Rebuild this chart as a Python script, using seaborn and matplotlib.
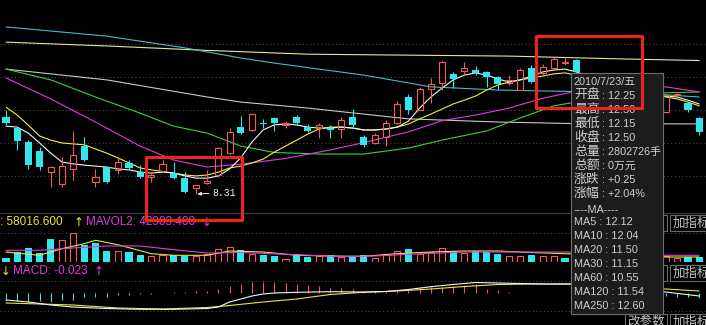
import numpy as np
import pandas as pd
import matplotlib
matplotlib.use("Agg")
import matplotlib.pyplot as plt
from matplotlib.patches import Rectangle
import seaborn as sns

# ----------------------------- data -----------------------------
opens = [10.74, 10.39, 9.95, 9.67, 9.00, 8.62, 9.10, 9.82, 8.69, 9.16,
         9.07, 9.29, 9.00, 8.85, 9.03, 8.97, 8.81, 8.50, 8.66, 8.91,
         9.60, 10.42, 10.33, 10.53, 10.71, 10.49, 10.74, 10.42, 10.39, 10.38,
         10.36, 10.74, 10.11, 9.92, 10.11, 10.55, 11.37, 10.96, 11.62, 11.81,
         12.10, 12.19, 12.22, 12.16, 12.00, 11.81, 11.59, 12.28, 12.13, 12.28,
         12.44, 12.54, 12.05, 11.90, 11.75, 11.85, 11.55, 11.35, 11.45, 10.90,
         11.42, 11.18, 10.71]
highs = [10.96, 10.42, 10.01, 9.79, 9.19, 9.48, 10.30, 10.11, 9.10, 9.19,
         9.45, 9.38, 9.22, 9.00, 9.38, 9.32, 9.00, 8.59, 9.07, 9.79,
         10.39, 10.77, 10.85, 10.68, 10.74, 10.61, 10.80, 10.52, 10.55, 10.49,
         10.74, 10.99, 10.17, 10.23, 10.64, 11.24, 11.46, 11.69, 11.97, 12.51,
         12.16, 12.47, 12.35, 12.19, 12.03, 12.06, 12.28, 12.38, 12.41, 12.63,
         12.63, 12.57, 12.10, 12.00, 11.90, 11.90, 11.65, 11.50, 11.50, 11.45,
         11.50, 11.20, 10.74]
lows = [10.49, 9.70, 9.10, 9.07, 8.53, 8.53, 8.75, 9.35, 8.53, 8.66,
        8.94, 9.10, 8.81, 8.69, 9.00, 8.78, 8.35, 8.31, 8.62, 8.85,
        9.57, 10.20, 10.31, 10.39, 10.30, 10.39, 10.49, 10.27, 10.08, 10.08,
        10.08, 10.42, 9.79, 9.89, 9.82, 10.52, 10.83, 10.95, 11.18, 11.59,
        11.65, 12.10, 12.06, 11.68, 11.62, 11.75, 11.58, 11.81, 12.06, 12.22,
        12.38, 12.10, 11.85, 11.70, 11.60, 11.50, 11.30, 11.20, 11.05, 10.88,
        11.38, 10.90, 10.17]
closes = [10.55, 9.98, 9.22, 9.16, 9.16, 9.19, 9.54, 9.38, 8.85, 8.69,
          9.32, 9.13, 8.85, 8.91, 9.26, 8.81, 8.38, 8.59, 8.72, 9.76,
          10.27, 10.23, 10.83, 10.52, 10.55, 10.55, 10.55, 10.30, 10.49, 10.34,
          10.64, 10.49, 9.86, 10.17, 10.55, 11.15, 10.96, 11.62, 11.78, 12.47,
          11.94, 12.28, 12.13, 12.00, 11.78, 11.91, 12.22, 11.84, 12.32, 12.57,
          12.47, 12.16, 11.90, 11.75, 11.85, 11.55, 11.35, 11.45, 11.10, 11.43,
          11.46, 10.96, 10.27]
low_mark = 8.31

ma5 = [10.45, 10.42, 10.23, 9.92, 9.60, 9.32, 9.26, 9.22, 9.19, 9.16,
       9.10, 9.07, 9.00, 8.97, 9.00, 8.97, 8.88, 8.81, 8.81, 8.88,
       9.10, 9.45, 9.95, 10.33, 10.49, 10.52, 10.49, 10.42, 10.39, 10.39,
       10.42, 10.39, 10.33, 10.33, 10.36, 10.42, 10.61, 11.02, 11.37, 11.65,
       11.91, 12.06, 12.13, 12.06, 11.94, 11.84, 11.91, 12.03, 12.16, 12.22,
       12.25, 12.16, 12.05, 11.95, 11.85, 11.75, 11.65, 11.55, 11.45, 11.40,
       11.37, 11.27, 11.15]
ma10 = [11.05, 10.80, 10.48, 10.14, 10.01, 9.92, 9.89, 9.86, 9.73, 9.60,
        9.45, 9.29, 9.13, 9.07, 9.02, 8.97, 8.91, 8.88, 8.91, 9.00,
        9.13, 9.19, 9.29, 9.41, 9.63, 9.82, 10.01, 10.20, 10.36, 10.42,
        10.42, 10.39, 10.33, 10.33, 10.36, 10.42, 10.52, 10.68, 10.83, 10.99,
        11.15, 11.27, 11.40, 11.59, 11.75, 11.84, 11.91, 11.97, 12.03, 12.10,
        12.13, 12.06, 12.00, 11.95, 11.90, 11.82, 11.72, 11.62, 11.50, 11.37,
        11.31, 11.21, 11.09]
ma20_idx = [0, 4, 8, 12, 15, 18, 21, 25, 29, 32, 36, 39, 42, 45, 48, 51, 59, 62]
ma20 = [11.97, 11.31, 10.58, 9.82, 9.38, 9.16, 9.25, 9.43, 9.70, 9.93,
        10.27, 10.62, 10.80, 11.02, 11.33, 11.55, 11.69, 11.53]
ma30_idx = [0, 4, 8, 12, 15, 18, 21, 24, 28, 32, 36, 39, 43, 46, 49, 51, 59, 62]
ma30 = [12.25, 11.91, 11.37, 10.86, 10.45, 10.23, 9.82, 9.62, 9.57, 9.57,
        9.76, 10.01, 10.30, 10.71, 11.09, 11.21, 11.50, 11.53]
ma60_idx = [0, 9, 18, 21, 27, 32, 36, 44, 51, 62]
ma60 = [12.25, 11.91, 11.37, 11.21, 11.02, 10.83, 10.68, 10.58, 10.53, 10.52]
ma120_idx = [0, 9, 16, 21, 24, 28, 32, 38, 44, 51, 58, 62]
ma120 = [13.58, 13.29, 12.92, 12.60, 12.44, 12.25, 12.06, 11.69, 11.59, 11.54, 11.46, 11.37]
ma250_idx = [0, 9, 18, 27, 36, 45, 54, 62]
ma250 = [13.10, 12.98, 12.84, 12.72, 12.69, 12.66, 12.58, 12.52]

volumes = [32000, 80000, 112000, 74400, 181600, 173600, 234400, 133600, 152000, 88000,
           88000, 80000, 53600, 48000, 53600, 53600, 48000, 48000, 61600, 106400,
           120000, 93600, 61600, 53600, 45600, 26400, 61600, 40000, 45600, 58400,
           40000, 40000, 58400, 34400, 66400, 85600, 101600, 61600, 80000, 114400,
           88000, 72000, 88000, 80000, 61600, 48000, 45600, 53600, 48000, 48000,
           34400, 48000, 52000, 60000, 45000, 56000, 64000, 50000, 58000, 48000,
           34400, 40000, 40000]
vol_dir = list("CCCCCRRCCC" "RCCRRCCRRR" "RCRCCRCCRC" "RCCRRRCRRR"
               "CRCCCRRCRR" "CCCCRCCRCR" "RCC")
mavol1_idx = [0, 3, 5, 7, 8, 10, 13, 15, 18, 20, 23, 26, 29, 32, 35, 38, 41, 44, 47, 50, 59, 62]
mavol1 = [80000, 53600, 106400, 146400, 173600, 138400, 66400, 53600, 53600, 88000, 80000,
          53600, 48000, 45600, 66400, 80000, 88000, 88000, 76000, 66400, 40000, 40000]
mavol2_idx = [0, 3, 6, 9, 12, 15, 18, 21, 26, 30, 33, 36, 41, 45, 50, 59, 62]
mavol2 = [93600, 93600, 112000, 128000, 128000, 98400, 72000, 76000, 58400, 42400,
          48000, 61600, 80000, 80000, 80000, 53600, 53600]

macd_hist = [-0.134, -0.154, -0.17, -0.15, -0.17, -0.14, -0.13, -0.07, -0.08, -0.07,
             -0.04, -0.024, -0.01, -0.01, 0.01, 0.03, 0.03, 0.04, 0.05, 0.08,
             0.15, 0.19, 0.234, 0.234, 0.22, 0.20, 0.18, 0.166, 0.146, 0.114,
             0.10, 0.08, 0.054, 0.046, 0.046, 0.054, 0.066, 0.10, 0.134, 0.134,
             0.154, 0.166, 0.18, 0.086, 0.066, 0.02, 0.01, 0.01, 0.01, 0.01,
             0.01, 0.01, -0.01, -0.02, -0.03, -0.04, -0.05, -0.05, -0.06, -0.06,
             -0.07, -0.08, -0.10]
dif_idx = [0, 2, 4, 6, 9, 12, 15, 18, 19, 20, 21, 22, 23, 24, 26, 29, 32, 34, 36, 38,
           40, 42, 45, 48, 51, 59, 62]
dif = [-0.134, -0.174, -0.234, -0.274, -0.304, -0.320, -0.320, -0.304, -0.274, -0.174,
       -0.114, -0.054, -0.014, 0.006, 0.020, 0.032, 0.026, 0.036, 0.076, 0.132,
       0.176, 0.216, 0.200, 0.186, 0.186, 0.026, -0.054]
dea_idx = [0, 6, 10, 14, 18, 20, 23, 26, 29, 32, 35, 38, 41, 44, 47, 51, 59, 62]
dea = [-0.194, -0.234, -0.294, -0.314, -0.284, -0.244, -0.174, -0.114, -0.024, 0.020,
       0.046, 0.086, 0.136, 0.176, 0.186, 0.186, 0.086, 0.046]

vol_label_1 = ": 58016.600"
vol_label_2 = "MAVOL2: 42903.400"
macd_label = "MACD: -0.023"

tip_date = "2010/7/23/五"
tip_labels = ["开盘", "最高", "最低", "收盘", "总量", "总额", "涨跌", "涨幅"]
tip_values = ["12.25", "12.50", "12.15", "12.50", "2802726手", "0万元", "+0.25", "+2.04%"]
tip_ma_names = ["MA5", "MA10", "MA20", "MA30", "MA60", "MA120", "MA250"]
tip_ma_values = ["12.12", "12.04", "11.50", "11.15", "10.55", "11.54", "12.60"]
btn_add = "加指标"
btn_edit = "改参数"

# ----------------------------- style -----------------------------
sns.set_theme(style="dark")
plt.rcParams["font.family"] = ["Liberation Sans", "Noto Sans CJK SC", "DejaVu Sans"]
plt.rcParams["axes.unicode_minus"] = False

CYAN = "#32e6ee"
RED = "#f05c5c"
YEL = "#e6e63c"
MAG = "#e03ce0"
TXT = "#cfcfcf"
BOXRED = "#e8261e"

W, H = 706, 325
fig = plt.figure(figsize=(W / 100, H / 100), dpi=100, facecolor="black")


def panel(top_px, bot_px, z):
    ax = fig.add_axes([0, 1 - bot_px / H, 1, (bot_px - top_px) / H], zorder=z)
    ax.set_facecolor("none")
    ax.axis("off")
    return ax


bg = panel(0, H, 0)
ax_p = panel(0, 212, 1)
ax_v = panel(213, 262, 1)
ax_m = panel(262, H, 1)
ov = panel(0, H, 5)
for a in (bg, ov):
    a.set_xlim(0, W)
    a.set_ylim(H, 0)

# background grid / separators (layout)
for gy in [43.5, 76.5, 109.5, 142.5, 175.5, 233, 281, 311]:
    bg.plot([0, W], [gy, gy], color="#4c4c4c", lw=0.75, ls=(0, (1, 2.5)))
bg.plot([0, W], [213, 213], color="#3a3a3a", lw=0.9)


def sline(ax, xs, ys, color, lw=0.8, z=2):
    df = pd.DataFrame({"x": np.asarray(xs, float), "y": np.asarray(ys, float)})
    sns.lineplot(data=df, x="x", y="y", ax=ax, color=color, linewidth=lw,
                 estimator=None, sort=False, zorder=z)


n = len(opens)
x = np.arange(n)
o, hi, lo, c = (np.array(v, float) for v in (opens, highs, lows, closes))
up = c >= o

# ----- moving averages (price panel) -----
sline(ax_p, ma250_idx, ma250, "#e6e6a0")
sline(ax_p, ma120_idx, ma120, "#44bccc")
sline(ax_p, ma60_idx, ma60, "#c8c8c8")
sline(ax_p, ma30_idx, ma30, "#3cd23c")
sline(ax_p, ma20_idx, ma20, "#e03ce0")
sline(ax_p, x, ma10, "#f0f03c")
sline(ax_p, x, ma5, "#f4f4f4")

# ----- candles -----
b_lo = np.minimum(o, c)
b_hi = np.maximum(o, c)
b_h = np.maximum(b_hi - b_lo, 0.03)
ax_p.vlines(x[~up], lo[~up], hi[~up], color=CYAN, lw=0.8, zorder=3)
ax_p.vlines(x[up], b_hi[up], hi[up], color=RED, lw=0.8, zorder=3)
ax_p.vlines(x[up], lo[up], b_lo[up], color=RED, lw=0.8, zorder=3)
ax_p.bar(x[~up], b_h[~up], bottom=b_lo[~up], width=0.63, color=CYAN, lw=0, zorder=4)
ax_p.bar(x[up], b_h[up], bottom=b_lo[up], width=0.55, facecolor="none",
         edgecolor=RED, lw=0.8, zorder=4)

ax_p.annotate("8.31", xy=(17, low_mark), xytext=(11.5, 0.8), textcoords="offset points",
              color="#f2f2f2", fontsize=7, family="Liberation Mono", ha="left", va="center",
              arrowprops=dict(arrowstyle="-|>", color="#f2f2f2", lw=0.7,
                              mutation_scale=5, shrinkA=0, shrinkB=1), zorder=6)

# ----- volume -----
vdir = np.array(vol_dir)
vol = np.array(volumes, float)
ax_v.bar(x[vdir == "C"], vol[vdir == "C"], width=0.63, color=CYAN, lw=0, zorder=3)
ax_v.bar(x[vdir == "R"], vol[vdir == "R"], width=0.55, facecolor="none",
         edgecolor=RED, lw=0.8, zorder=3)
sline(ax_v, mavol1_idx, mavol1, YEL, lw=0.8, z=4)
sline(ax_v, mavol2_idx, mavol2, MAG, lw=0.8, z=4)

# ----- MACD -----
mh = np.array(macd_hist)
ax_m.vlines(x[mh >= 0], 0, mh[mh >= 0], color=RED, lw=0.8, zorder=3)
ax_m.vlines(x[mh < 0], mh[mh < 0], 0, color=CYAN, lw=0.8, zorder=3)
sline(ax_m, dea_idx, dea, YEL, lw=0.8, z=4)
sline(ax_m, dif_idx, dif, "#f4f4f4", lw=0.8, z=4)

XL = (-6 / 11.18, 700 / 11.18)
for a in (ax_p, ax_v, ax_m):
    a.set_xlim(*XL)
    a.set_xlabel("")
    a.set_ylabel("")
    a.axis("off")
ax_p.set_ylim(14.43 - 0.03155 * 212, 14.43)
ax_v.set_ylim(0, 49 * 8000)
ax_m.set_ylim((293.3 - 325) * 0.02, (293.3 - 262) * 0.02)

# ----- panel labels -----
ov.text(0, 222, vol_label_1, color=YEL, fontsize=8.5, va="center", ha="left", zorder=2)
ov.text(73.5, 222, "↑", color=YEL, fontsize=8.5, va="center", ha="left", family="DejaVu Sans", zorder=2)
ov.text(86, 222, vol_label_2, color=MAG, fontsize=8.5, va="center", ha="left", zorder=2)
ov.text(201.5, 222, "↓", color=MAG, fontsize=8.5, va="center", ha="left", family="DejaVu Sans", zorder=2)
ov.text(0.5, 271.5, "↓", color=YEL, fontsize=8.5, va="center", ha="left", family="DejaVu Sans", zorder=2)
ov.text(13, 271.5, macd_label, color=MAG, fontsize=8.5, va="center", ha="left", zorder=2)
ov.text(93.5, 271.5, "↑", color=MAG, fontsize=8.5, va="center", ha="left", family="DejaVu Sans", zorder=2)

# ----- buttons (the upper "改参数" buttons sit behind the tooltip; only their edge shows) -----
for by in (214.5, 264.5, 313.5):
    ov.add_patch(Rectangle((624.5, by), 42.5, 16, facecolor="black", edgecolor="#6a6a6a", lw=0.8, zorder=1))
    ov.add_patch(Rectangle((669.5, by), 45, 16, facecolor="black", edgecolor="#6a6a6a", lw=0.8, zorder=1))
    ov.text(672.5, by + 8.3, btn_add, color="#c4c4c4", fontsize=9, family="Noto Sans CJK SC",
            va="center", ha="left", zorder=1.5)
ov.text(627, 313.5 + 8.3, btn_edit, color="#c4c4c4", fontsize=9, family="Noto Sans CJK SC",
        va="center", ha="left", zorder=1.5)

# ----- tooltip -----
ov.add_patch(Rectangle((570.5, 73.3), 92, 240.2, facecolor="#1c1c1c", edgecolor="#6e6e6e",
                       lw=0.8, zorder=3))
y0, dy = 81.7, 14.0
ov.text(574, y0, tip_date, color=TXT, fontsize=7.8, va="center", ha="left", zorder=4)
for j, (lab, val) in enumerate(zip(tip_labels, tip_values)):
    yy = y0 + dy * (j + 1)
    ov.text(574, yy, lab, color=TXT, fontsize=9.3, family="Noto Sans CJK SC",
            va="center", ha="left", zorder=4)
    ov.text(601.5, yy, ": " + val, color=TXT, fontsize=7.8, va="center", ha="left", zorder=4)
ov.text(574, y0 + dy * 9 + 2, "----MA----", color=TXT, fontsize=7.8, va="center", ha="left", zorder=4)
for k, (nm, val) in enumerate(zip(tip_ma_names, tip_ma_values)):
    ov.text(574, y0 + dy * (10 + k), f"{nm} : {val}", color=TXT, fontsize=7.8,
            va="center", ha="left", zorder=4)

# ----- red highlight boxes -----
ov.add_patch(Rectangle((145.5, 157.3), 96.2, 62.2, facecolor="none", edgecolor=BOXRED,
                       lw=2.3, joinstyle="round", zorder=6))
ov.add_patch(Rectangle((535.8, 35.8), 105.9, 71.9, facecolor="none", edgecolor=BOXRED,
                       lw=2.3, joinstyle="round", zorder=6))

fig.savefig("out.png", dpi=100, facecolor="black")
